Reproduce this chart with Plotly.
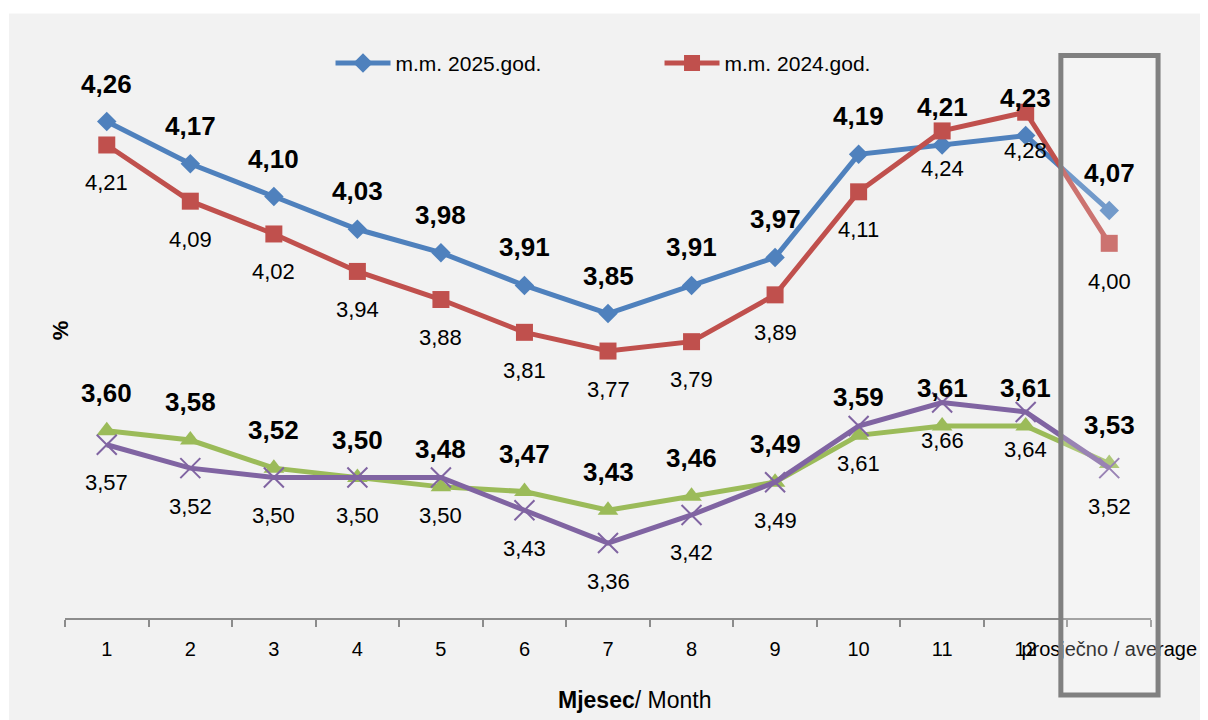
import plotly.graph_objects as go

months = ["1", "2", "3", "4", "5", "6", "7", "8", "9", "10", "11", "12", "prosječno / average"]
mm_2025 = [4.26, 4.17, 4.10, 4.03, 3.98, 3.91, 3.85, 3.91, 3.97, 4.19, 4.21, 4.23, 4.07]
mm_2024 = [4.21, 4.09, 4.02, 3.94, 3.88, 3.81, 3.77, 3.79, 3.89, 4.11, 4.24, 4.28, 4.00]
green_vals = [3.60, 3.58, 3.52, 3.50, 3.48, 3.47, 3.43, 3.46, 3.49, 3.59, 3.61, 3.61, 3.53]
purple_vals = [3.57, 3.52, 3.50, 3.50, 3.50, 3.43, 3.36, 3.42, 3.49, 3.61, 3.66, 3.64, 3.52]

FONT = "Liberation Sans Narrow, Arial Narrow, Liberation Sans, Arial, sans-serif"
BLUE, RED, GREEN, PURPLE = "#4F81BD", "#C0504D", "#9BBB59", "#8064A2"

fig = go.Figure()
fig.add_trace(go.Scatter(x=months, y=mm_2025, mode="lines+markers", name="m.m. 2025.god.",
                         line=dict(color=BLUE, width=5),
                         marker=dict(symbol="diamond", size=15, color=BLUE)))
fig.add_trace(go.Scatter(x=months, y=mm_2024, mode="lines+markers", name="m.m. 2024.god.",
                         line=dict(color=RED, width=5),
                         marker=dict(symbol="square", size=17, color=RED)))
fig.add_trace(go.Scatter(x=months, y=green_vals, mode="lines+markers", showlegend=False,
                         line=dict(color=GREEN, width=5),
                         marker=dict(symbol="triangle-up", size=18, color=GREEN)))
fig.add_trace(go.Scatter(x=months, y=purple_vals, mode="lines+markers", showlegend=False,
                         line=dict(color=PURPLE, width=5),
                         marker=dict(symbol="x-thin", size=20, color=PURPLE,
                                     line=dict(color=PURPLE, width=2))))

def fmt(v):
    return f"{v:.2f}".replace(".", ",")

for i, v in enumerate(mm_2025):
    fig.add_annotation(x=i, y=v, text="<b>" + fmt(v) + "</b>", showarrow=False, yshift=38,
                       font=dict(family=FONT, size=26, color="black"))
for i, v in enumerate(mm_2024):
    fig.add_annotation(x=i, y=v, text=fmt(v), showarrow=False, yshift=-38,
                       font=dict(family=FONT, size=22, color="black"))
for i, v in enumerate(green_vals):
    fig.add_annotation(x=i, y=v, text="<b>" + fmt(v) + "</b>", showarrow=False, yshift=38,
                       font=dict(family=FONT, size=26, color="black"))
for i, v in enumerate(purple_vals):
    fig.add_annotation(x=i, y=v, text=fmt(v), showarrow=False, yshift=-38,
                       font=dict(family=FONT, size=22, color="black"))

# axis titles
fig.add_annotation(xref="paper", yref="paper", x=-0.0046, y=0.512, text="<b>%</b>",
                   xanchor="center", yanchor="middle",
                   textangle=-90, showarrow=False, font=dict(family=FONT, size=22, color="black"))
fig.add_annotation(xref="paper", yref="paper", x=0.524, y=-0.1458, text="<b>Mjesec</b>/ Month",
                   xanchor="center", yanchor="middle",
                   showarrow=False, font=dict(family=FONT, size=23, color="black"))

# white strips outside the gray frame
fig.add_shape(type="rect", xref="paper", yref="paper", x0=-0.07, x1=1.1, y0=1.0756, y1=1.2,
              fillcolor="white", line=dict(width=0), layer="below")
fig.add_shape(type="rect", xref="paper", yref="paper", x0=-0.07, x1=-0.0516, y0=-0.3, y1=1.2,
              fillcolor="white", line=dict(width=0), layer="below")
# highlight box around the average
fig.add_shape(type="rect", xref="paper", yref="paper", x0=0.917, x1=1.0065, y0=-0.137, y1=1.0009,
              fillcolor="rgba(255,255,255,0.2)", line=dict(color="#808080", width=5), layer="above")

fig.update_layout(
    width=1200, height=712,
    margin=dict(l=57, r=57, t=47.5, b=102, autoexpand=False),
    paper_bgcolor="#f2f2f2", plot_bgcolor="#f2f2f2",
    font=dict(family=FONT, color="black"),
    showlegend=True,
    legend=dict(orientation="h", x=0.2445, y=0.987, xanchor="left", yanchor="middle",
                bgcolor="rgba(0,0,0,0)", font=dict(family=FONT, size=21, color="black"),
                itemwidth=55, entrywidth=259, tracegroupgap=0),
    xaxis=dict(type="category", range=[-0.5, 12.5], showgrid=False, zeroline=False, showline=True,
               linecolor="#8c8c8c", linewidth=2, ticks="outside", tickson="boundaries",
               ticklen=7, tickcolor="#8c8c8c", tickwidth=2, tickangle=0, automargin=False,
               ticklabelstandoff=12,
               tickfont=dict(family=FONT, size=20, color="black")),
    yaxis=dict(range=[3.2, 4.4], showgrid=False, zeroline=False, showline=False,
               showticklabels=False, ticks="", automargin=False),
)

fig.write_html("out.html")
